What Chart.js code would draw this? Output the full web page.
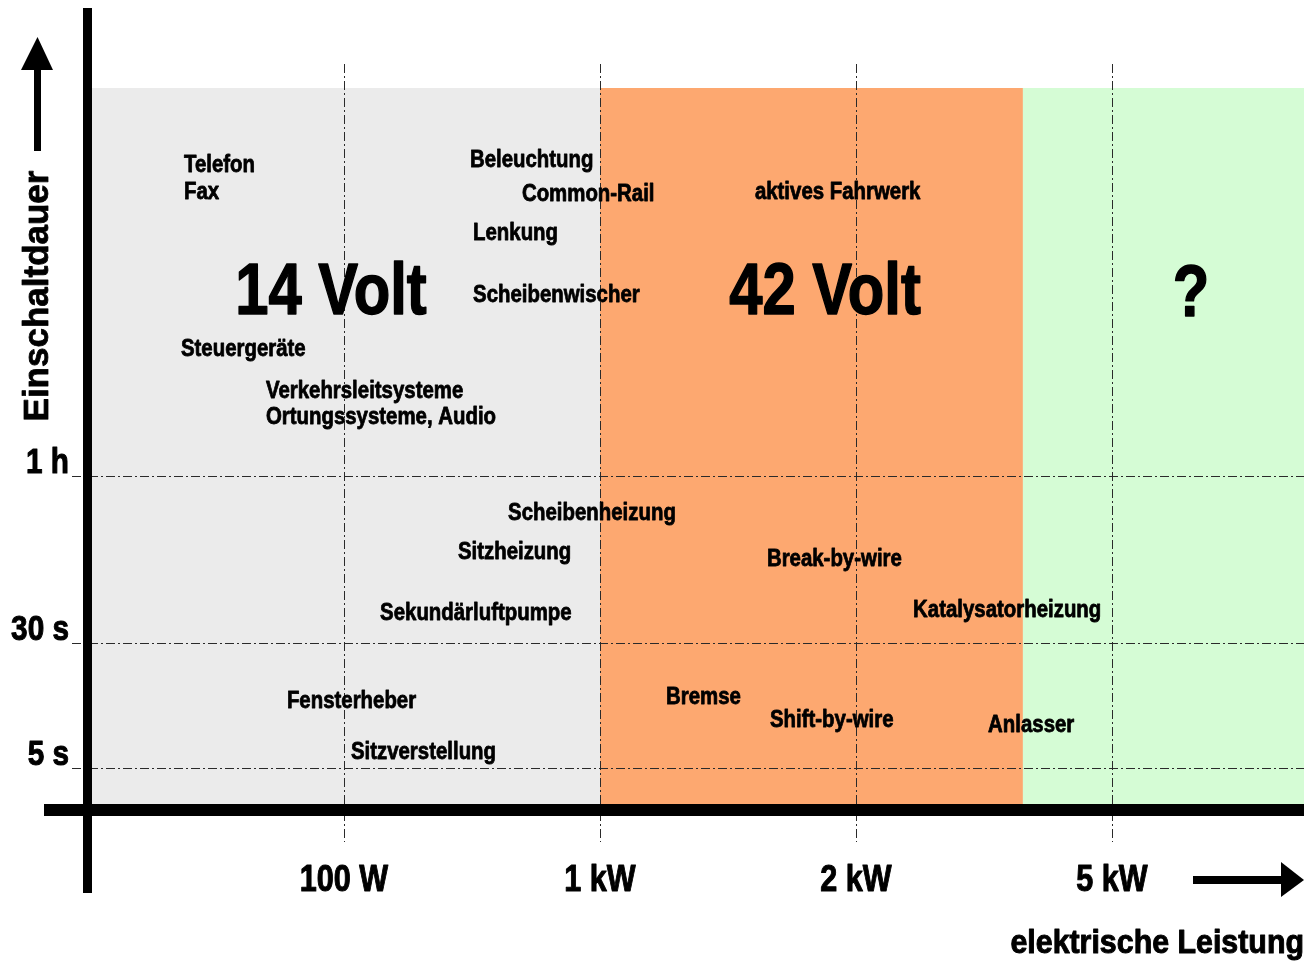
<!DOCTYPE html>
<html>
<head>
<meta charset="utf-8">
<script src="https://cdn.jsdelivr.net/npm/chart.js@4.4.1/dist/chart.umd.min.js"></script>
<style>
  html, body { margin: 0; padding: 0; background: #ffffff; }
  #wrap { width: 1304px; height: 962px; position: relative; }
</style>
</head>
<body>
<div id="wrap"><canvas id="c"></canvas></div>
<script>
// ---- data (schematic positions on a power axis and a duty-time axis) ----
const xTickValues = [1, 2, 3, 4];
const xTickLabels = ['100 W', '1 kW', '2 kW', '5 kW'];
const yTickValues = [0.58, 2.31, 4.63];
const yTickLabels = ['5 s', '30 s', '1 h'];

const bandStarts = [0, 2, 3.652];
const bandEnds   = [2, 3.652, 4.75];
const bandColors = ['#ebebeb', '#fda870', '#d5fcd5'];

const consumerNames = ['Telefon', 'Fax', 'Beleuchtung', 'Common-Rail', 'Lenkung', 'Scheibenwischer',
  'aktives Fahrwerk', 'Steuergeräte', 'Verkehrsleitsysteme', 'Ortungssysteme, Audio',
  'Scheibenheizung', 'Sitzheizung', 'Break-by-wire', 'Sekundärluftpumpe', 'Katalysatorheizung',
  'Fensterheber', 'Bremse', 'Shift-by-wire', 'Anlasser', 'Sitzverstellung'];
const consumerX = [0.375, 0.375, 1.492, 1.695, 1.504, 1.504,
  2.605, 0.363, 0.695, 0.695,
  1.641, 1.445, 2.652, 1.141, 3.223,
  0.777, 2.258, 2.664, 3.516, 1.027];
const consumerY = [8.93, 8.56, 9.00, 8.53, 7.99, 7.13,
  8.56, 6.38, 5.80, 5.44,
  4.11, 3.57, 3.47, 2.73, 2.76,
  1.50, 1.56, 1.24, 1.17, 0.80];

const voltNames = ['14 Volt', '42 Volt', '?'];
const voltX = [0.949, 2.879, 4.309];
const voltY = [7.15, 7.15, 7.12];

const xTitle = 'elektrische Leistung';
const yTitle = 'Einschaltdauer';

// ---- helpers ----
const FONT = '"Liberation Sans", Arial, Helvetica, sans-serif';
function drawText(ctx, txt, x, y, size, sx, align, baseline, stroke) {
  ctx.save();
  ctx.translate(x, y);
  ctx.scale(sx, 1);
  ctx.font = 'bold ' + size + 'px ' + FONT;
  ctx.fillStyle = '#000';
  ctx.strokeStyle = '#000';
  ctx.lineJoin = 'round';
  ctx.textAlign = align;
  ctx.textBaseline = baseline;
  ctx.fillText(txt, 0, 0);
  if (stroke) { ctx.lineWidth = stroke; ctx.strokeText(txt, 0, 0); }
  ctx.restore();
}

const diagramPlugin = {
  id: 'diagram',
  beforeDatasetsDraw(chart) {
    const ctx = chart.ctx, a = chart.chartArea;
    const xs = chart.scales.x, ys = chart.scales.y;
    ctx.save();
    // bands
    for (let i = 0; i < bandStarts.length; i++) {
      const x0 = xs.getPixelForValue(bandStarts[i]);
      const x1 = xs.getPixelForValue(bandEnds[i]);
      ctx.fillStyle = bandColors[i];
      ctx.fillRect(x0, a.top, x1 - x0, a.bottom - a.top);
    }
    // dash-dot grid
    ctx.strokeStyle = '#2a2a2a';
    ctx.lineWidth = 1;
    ctx.setLineDash([9, 3, 2, 3]);
    xTickValues.forEach(v => {
      const px = Math.round(xs.getPixelForValue(v)) + 0.5;
      ctx.beginPath(); ctx.moveTo(px, a.top - 24); ctx.lineTo(px, a.bottom + 32); ctx.stroke();
    });
    yTickValues.forEach(v => {
      const py = Math.round(ys.getPixelForValue(v)) + 0.5;
      ctx.beginPath(); ctx.moveTo(a.left - 16, py); ctx.lineTo(a.right, py); ctx.stroke();
    });
    ctx.setLineDash([]);
    // axis lines
    ctx.fillStyle = '#000';
    ctx.fillRect(a.left - 5, 8, 9, 885);          // y axis
    ctx.fillRect(44, a.bottom - 6, a.right - 44, 12); // x axis
    // tick labels
    xTickValues.forEach((v, i) => {
      drawText(ctx, xTickLabels[i], xs.getPixelForValue(v), a.bottom + 71, 36, 0.85, 'center', 'middle', 1);
    });
    yTickValues.forEach((v, i) => {
      drawText(ctx, yTickLabels[i], 69, ys.getPixelForValue(v) - 3, 35, 0.85, 'right', 'alphabetic', 1);
    });
    // arrows
    ctx.fillRect(34, 66, 7, 85);
    ctx.beginPath(); ctx.moveTo(21, 70); ctx.lineTo(53, 70); ctx.lineTo(37.5, 37); ctx.closePath(); ctx.fill();
    ctx.fillRect(1193, 876, 90, 8);
    ctx.beginPath(); ctx.moveTo(1281, 862); ctx.lineTo(1281, 897); ctx.lineTo(1304, 880); ctx.closePath(); ctx.fill();
    // axis titles
    ctx.save();
    ctx.translate(38, 296);
    ctx.rotate(-Math.PI / 2);
    drawText(ctx, yTitle, 0, 0, 35, 1.0, 'center', 'middle', 0.8);
    ctx.restore();
    drawText(ctx, xTitle, 1304, 944, 33, 0.92, 'right', 'middle', 1);
    ctx.restore();
  },
  afterDatasetsDraw(chart) {
    const ctx = chart.ctx;
    const m0 = chart.getDatasetMeta(0), m1 = chart.getDatasetMeta(1);
    m0.data.forEach((pt, i) => drawText(ctx, consumerNames[i], pt.x, pt.y, 24, 0.85, 'left', 'middle', 0.8));
    m1.data.forEach((pt, i) => drawText(ctx, voltNames[i], pt.x, pt.y, 72, 0.83, 'center', 'middle', 1.5));
  }
};

new Chart(document.getElementById('c'), {
  type: 'scatter',
  data: {
    datasets: [
      { label: 'Verbraucher', data: consumerX.map((x, i) => ({ x, y: consumerY[i] })), pointRadius: 0, pointHoverRadius: 0 },
      { label: 'Bordnetz', data: voltX.map((x, i) => ({ x, y: voltY[i] })), pointRadius: 0, pointHoverRadius: 0 }
    ]
  },
  options: {
    responsive: true,
    maintainAspectRatio: false,
    animation: false,
    layout: { padding: { left: 88, right: 0, top: 88, bottom: 152 } },
    plugins: { legend: { display: false }, tooltip: { enabled: false } },
    scales: {
      x: { type: 'linear', min: 0, max: 4.75, display: false },
      y: { type: 'linear', min: 0, max: 10, display: false }
    }
  },
  plugins: [diagramPlugin]
});
</script>
</body>
</html>
